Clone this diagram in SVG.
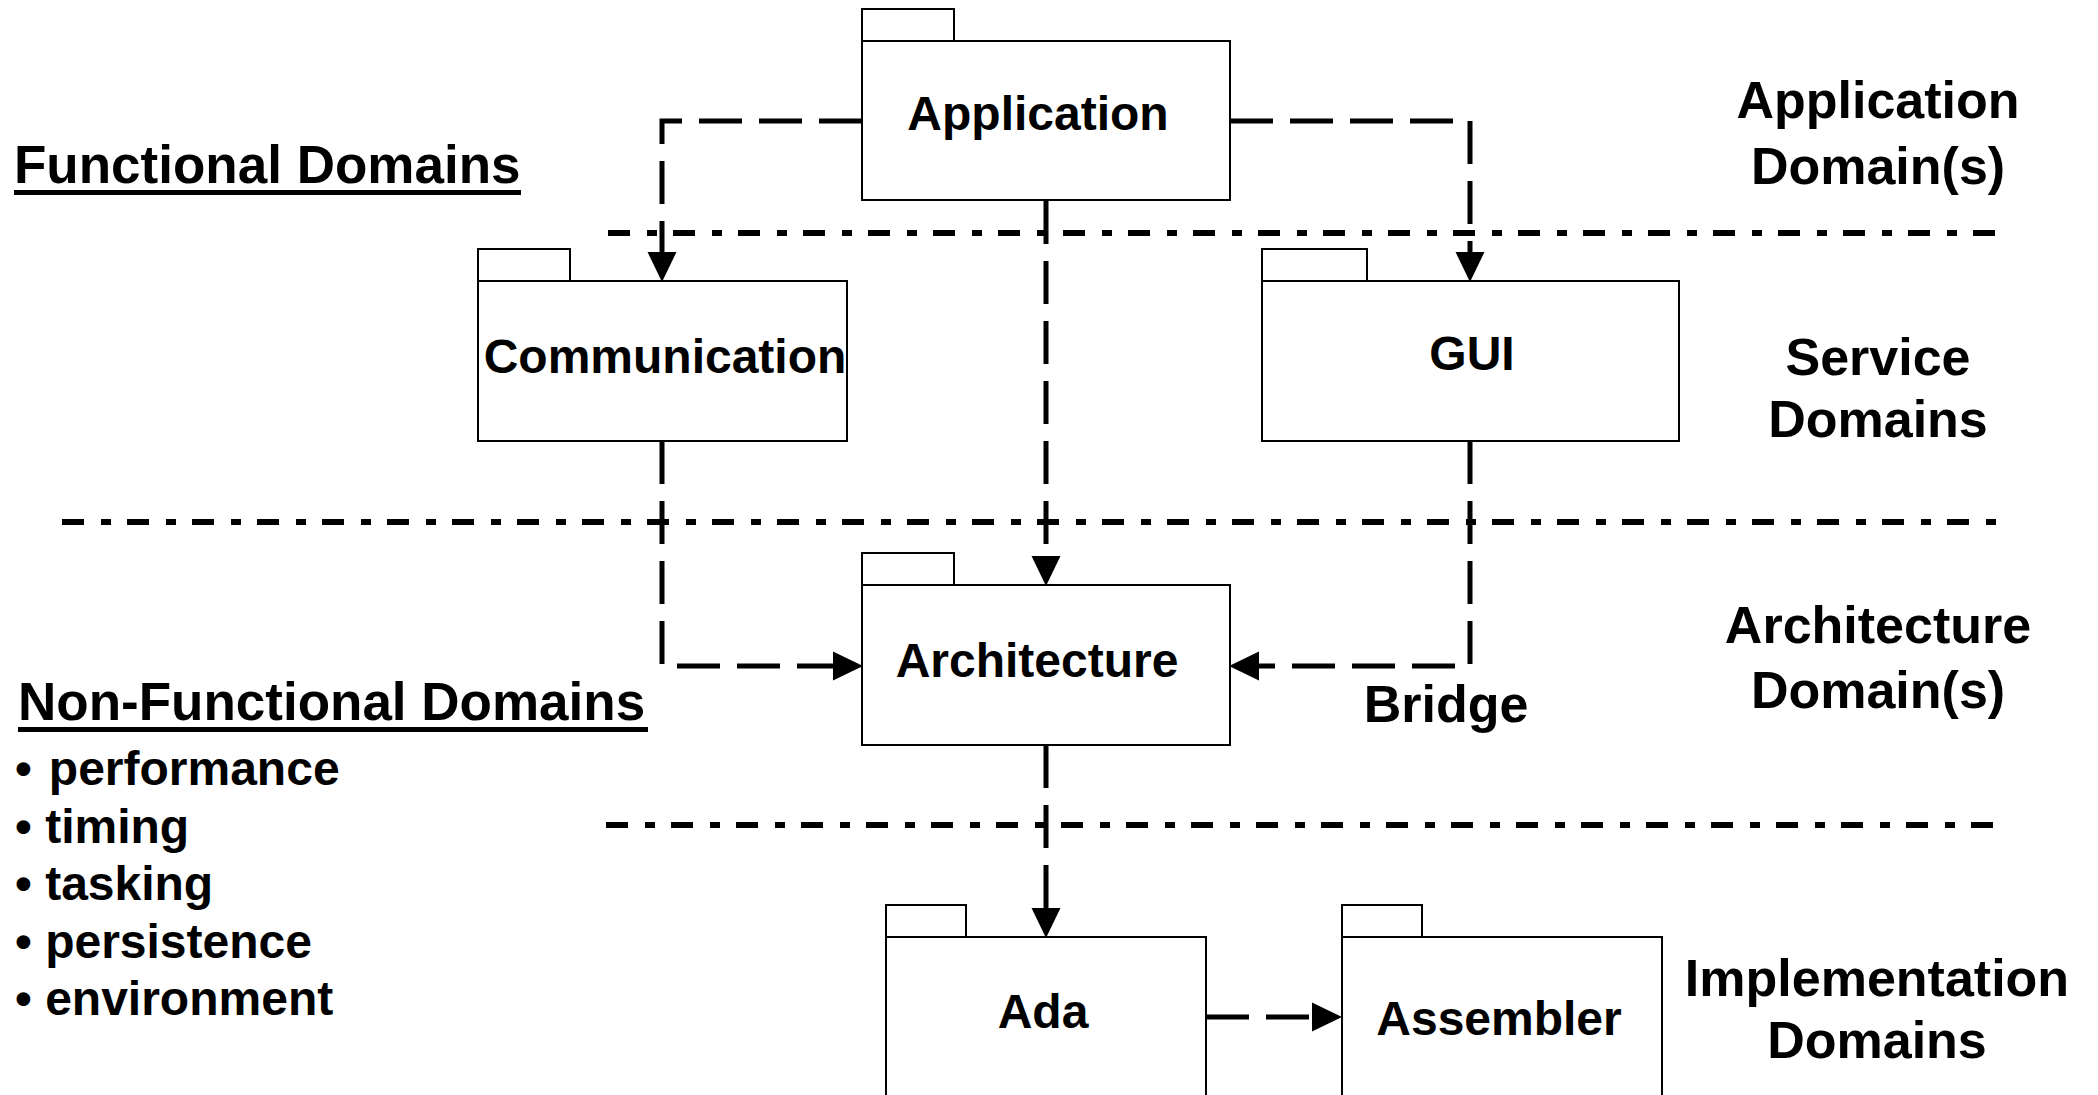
<svg xmlns="http://www.w3.org/2000/svg" width="2098" height="1095" viewBox="0 0 2098 1095">
  <style>
    text { font-family: "Liberation Sans", Arial, sans-serif; font-weight: bold; fill: #000; }
    .pkg rect { fill: #fff; stroke: #000; stroke-width: 2; }
    .name { font-size: 48px; text-anchor: middle; }
    .layer { font-size: 52px; text-anchor: middle; }
    .head { font-size: 53px; }
    .item { font-size: 48px; }
    .sep { fill: none; stroke: #000; stroke-width: 6; stroke-dasharray: 22 17 10 16; }
    .dep { fill: none; stroke: #000; stroke-width: 5; stroke-dasharray: 43 17; }
    .rule { stroke: #000; stroke-width: 5; }
  </style>
  <defs>
    <marker id="arrow" markerUnits="userSpaceOnUse" markerWidth="30" markerHeight="30" viewBox="0 -14 29 28" refX="0" refY="0" orient="auto">
      <path d="M0,-14 L29,0 L0,14 Z" fill="#000"/>
    </marker>
  </defs>

  <rect width="2098" height="1095" fill="#fff"/>

  <!-- layer separators -->
  <g id="separators">
    <line class="sep" x1="608" y1="233" x2="2000" y2="233"/>
    <line class="sep" x1="62" y1="522" x2="2004" y2="522"/>
    <line class="sep" x1="606" y1="825" x2="2000" y2="825"/>
  </g>

  <!-- dependency connectors -->
  <g id="connectors">
    <path class="dep" d="M862,121 H662 V252" marker-end="url(#arrow)"/>
    <path class="dep" d="M1230,121 H1470 V252" marker-end="url(#arrow)"/>
    <path class="dep" d="M1046,201 V556" marker-end="url(#arrow)"/>
    <path class="dep" d="M662,441 V666 H833" marker-end="url(#arrow)"/>
    <path class="dep" d="M1470,441 V666 H1259" marker-end="url(#arrow)"/>
    <path class="dep" d="M1046,745 V908" marker-end="url(#arrow)"/>
    <path class="dep" d="M1206,1017 H1312" marker-end="url(#arrow)"/>
  </g>

  <!-- packages -->
  <g id="application" class="pkg">
    <rect x="862" y="9" width="92" height="32"/>
    <rect x="862" y="41" width="368" height="159"/>
    <text class="name" x="1038" y="130">Application</text>
  </g>
  <g id="communication" class="pkg">
    <rect x="478" y="249" width="92" height="32"/>
    <rect x="478" y="281" width="369" height="160"/>
    <text class="name" x="665" y="373">Communication</text>
  </g>
  <g id="gui" class="pkg">
    <rect x="1262" y="249" width="105" height="32"/>
    <rect x="1262" y="281" width="417" height="160"/>
    <text class="name" x="1472" y="370">GUI</text>
  </g>
  <g id="architecture" class="pkg">
    <rect x="862" y="553" width="92" height="32"/>
    <rect x="862" y="585" width="368" height="160"/>
    <text class="name" x="1037" y="677">Architecture</text>
  </g>
  <g id="ada" class="pkg">
    <rect x="886" y="905" width="80" height="32"/>
    <rect x="886" y="937" width="320" height="170"/>
    <text class="name" x="1043" y="1028">Ada</text>
  </g>
  <g id="assembler" class="pkg">
    <rect x="1342" y="905" width="80" height="32"/>
    <rect x="1342" y="937" width="320" height="170"/>
    <text class="name" x="1499" y="1035">Assembler</text>
  </g>

  <!-- bridge label -->
  <g id="bridge">
    <text class="layer" x="1446" y="722">Bridge</text>
  </g>

  <!-- layer names -->
  <g id="layer-labels">
    <text class="layer" x="1878" y="118">Application</text>
    <text class="layer" x="1878" y="184">Domain(s)</text>
    <text class="layer" x="1878" y="375">Service</text>
    <text class="layer" x="1878" y="437">Domains</text>
    <text class="layer" x="1878" y="643">Architecture</text>
    <text class="layer" x="1878" y="708">Domain(s)</text>
    <text class="layer" x="1877" y="996">Implementation</text>
    <text class="layer" x="1877" y="1058">Domains</text>
  </g>

  <!-- domain categories -->
  <g id="functional">
    <text class="head" x="14" y="183">Functional Domains</text>
    <line class="rule" x1="14" y1="192.5" x2="521" y2="192.5"/>
  </g>
  <g id="non-functional">
    <text class="head" x="18" y="720">Non-Functional Domains</text>
    <line class="rule" x1="18" y1="729.5" x2="648" y2="729.5"/>
    <text class="item" x="15" y="785">•<tspan dx="17">performance</tspan></text>
    <text class="item" x="15" y="843">• timing</text>
    <text class="item" x="15" y="900">• tasking</text>
    <text class="item" x="15" y="958">• persistence</text>
    <text class="item" x="15" y="1015">• environment</text>
  </g>
</svg>
